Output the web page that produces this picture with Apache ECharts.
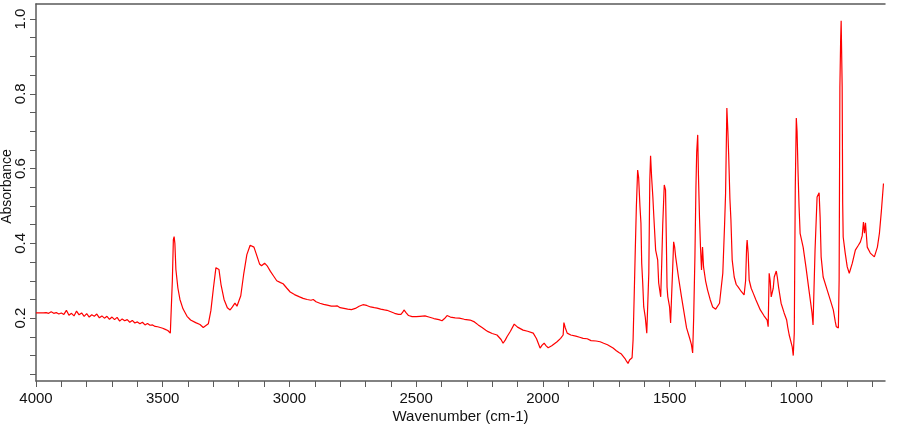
<!DOCTYPE html>
<html>
<head>
<meta charset="utf-8">
<title>IR spectrum</title>
<script src="https://cdn.jsdelivr.net/npm/echarts@6/dist/echarts.min.js"></script>
<style>
  html, body { margin: 0; padding: 0; background: #fff; }
  #chart { width: 900px; height: 425px; }
</style>
</head>
<body>
<div id="chart"></div>
<script>
const wavenumbers = [
  4000, 3990, 3980, 3970, 3960, 3950, 3940, 3930, 3920, 3910,
  3900, 3890, 3880, 3870, 3860, 3850, 3840, 3830, 3820, 3810,
  3800, 3790, 3780, 3770, 3760, 3750, 3740, 3730, 3720, 3710,
  3700, 3690, 3680, 3670, 3660, 3650, 3640, 3630, 3620, 3610,
  3600, 3590, 3580, 3570, 3560, 3550, 3540, 3530, 3520, 3510,
  3500, 3490, 3480, 3470, 3466, 3462, 3458, 3455, 3452, 3448,
  3440, 3432, 3420, 3404, 3390, 3370, 3353, 3340, 3333, 3320,
  3310, 3300, 3290, 3285, 3278, 3270, 3258, 3245, 3234, 3225,
  3215, 3207, 3200, 3192, 3180, 3168, 3155, 3148, 3140, 3130,
  3118, 3110, 3098, 3088, 3075, 3062, 3050, 3035, 3025, 3010,
  2997, 2980, 2960, 2946, 2930, 2915, 2906, 2895, 2880, 2865,
  2851, 2835, 2820, 2812, 2800, 2785, 2770, 2755, 2740, 2725,
  2710, 2695, 2680, 2665, 2654, 2640, 2625, 2615, 2600, 2585,
  2570, 2560, 2553, 2548, 2540, 2530, 2516, 2500, 2485, 2465,
  2450, 2430, 2410, 2398, 2388, 2378, 2365, 2346, 2330, 2310,
  2287, 2270, 2255, 2240, 2225, 2216, 2200, 2181, 2165, 2157,
  2148, 2141, 2128, 2113, 2100, 2078, 2060, 2038, 2025, 2011,
  2003, 1995, 1987, 1979, 1965, 1944, 1930, 1920, 1917, 1912,
  1904, 1890, 1870, 1855, 1841, 1825, 1810, 1790, 1774, 1760,
  1745, 1735, 1723, 1710, 1700, 1690, 1683, 1676, 1670, 1664,
  1658, 1652, 1648, 1644, 1640, 1636, 1631, 1626, 1622, 1617,
  1613, 1610, 1606, 1602, 1596, 1590, 1586, 1582, 1578, 1575,
  1571, 1566, 1562, 1555, 1547, 1543, 1535, 1531, 1527, 1521,
  1516, 1513, 1510, 1507, 1500, 1496, 1492, 1488, 1484, 1480,
  1476, 1465, 1453, 1440, 1433, 1421, 1414, 1409, 1405, 1400,
  1396, 1393, 1389, 1386, 1382, 1378, 1374, 1370, 1366, 1358,
  1350, 1340, 1330, 1318, 1311, 1303, 1290, 1283, 1279, 1274,
  1270, 1267, 1262, 1258, 1253, 1245, 1237, 1229, 1218, 1206,
  1200, 1196, 1194, 1190, 1186, 1178, 1170, 1160, 1142, 1128,
  1115, 1111, 1107, 1103, 1099, 1091, 1087, 1079, 1075, 1070,
  1060, 1048, 1038, 1034, 1028, 1016, 1012, 1008, 1004, 1000,
  997, 993, 989, 985, 981, 973, 962, 950, 938, 934,
  926, 918, 910, 906, 902, 894, 878, 866, 854, 846,
  842, 834, 831, 828, 825, 823, 819, 817, 815, 807,
  799, 791, 779, 767, 755, 747, 740, 735, 731, 727,
  724, 720, 708, 692, 680, 672, 664, 656
];

const absorbance = [
  0.214, 0.214, 0.214, 0.214, 0.215, 0.213, 0.217, 0.213, 0.215, 0.211,
  0.214, 0.210, 0.221, 0.208, 0.213, 0.206, 0.219, 0.209, 0.214, 0.205,
  0.212, 0.203, 0.209, 0.205, 0.211, 0.201, 0.206, 0.200, 0.205, 0.197,
  0.203, 0.196, 0.202, 0.192, 0.198, 0.193, 0.196, 0.189, 0.194, 0.187,
  0.190, 0.185, 0.189, 0.182, 0.186, 0.181, 0.182, 0.178, 0.177, 0.175,
  0.173, 0.170, 0.167, 0.160, 0.165, 0.300, 0.410, 0.418, 0.400, 0.330,
  0.280, 0.250, 0.225, 0.205, 0.195, 0.188, 0.183, 0.175, 0.174, 0.185,
  0.220, 0.280, 0.335, 0.340, 0.330, 0.290, 0.250, 0.228, 0.222, 0.230,
  0.240, 0.232, 0.232, 0.260, 0.320, 0.370, 0.395, 0.398, 0.390, 0.370,
  0.345, 0.340, 0.347, 0.340, 0.325, 0.312, 0.300, 0.295, 0.292, 0.280,
  0.270, 0.263, 0.257, 0.253, 0.250, 0.248, 0.250, 0.244, 0.240, 0.237,
  0.235, 0.232, 0.232, 0.233, 0.228, 0.226, 0.224, 0.223, 0.226, 0.232,
  0.236, 0.234, 0.230, 0.228, 0.227, 0.224, 0.222, 0.221, 0.217, 0.213,
  0.210, 0.210, 0.216, 0.222, 0.215, 0.207, 0.204, 0.204, 0.205, 0.206,
  0.203, 0.199, 0.196, 0.193, 0.199, 0.207, 0.203, 0.201, 0.200, 0.197,
  0.195, 0.190, 0.182, 0.175, 0.168, 0.164, 0.159, 0.155, 0.143, 0.133,
  0.142, 0.151, 0.165, 0.184, 0.176, 0.168, 0.165, 0.160, 0.145, 0.120,
  0.128, 0.133, 0.126, 0.121, 0.126, 0.137, 0.146, 0.155, 0.188, 0.175,
  0.160, 0.155, 0.152, 0.149, 0.146, 0.145, 0.140, 0.139, 0.137, 0.133,
  0.129, 0.125, 0.120, 0.113, 0.108, 0.104, 0.100, 0.092, 0.085, 0.079,
  0.088, 0.092, 0.094, 0.142, 0.250, 0.364, 0.500, 0.596, 0.575, 0.500,
  0.454, 0.347, 0.294, 0.230, 0.203, 0.160, 0.240, 0.320, 0.570, 0.634,
  0.578, 0.524, 0.470, 0.382, 0.356, 0.294, 0.257, 0.347, 0.450, 0.556,
  0.543, 0.418, 0.283, 0.257, 0.230, 0.187, 0.260, 0.329, 0.404, 0.390,
  0.364, 0.310, 0.257, 0.203, 0.174, 0.147, 0.130, 0.107, 0.200, 0.364,
  0.550, 0.644, 0.690, 0.580, 0.470, 0.390, 0.329, 0.390, 0.337, 0.300,
  0.275, 0.250, 0.230, 0.224, 0.222, 0.240, 0.320, 0.450, 0.534, 0.762,
  0.700, 0.640, 0.520, 0.463, 0.356, 0.310, 0.290, 0.283, 0.272, 0.262,
  0.300, 0.390, 0.409, 0.374, 0.302, 0.280, 0.267, 0.250, 0.222, 0.207,
  0.195, 0.177, 0.320, 0.300, 0.257, 0.280, 0.310, 0.326, 0.310, 0.283,
  0.240, 0.214, 0.195, 0.177, 0.155, 0.123, 0.100, 0.160, 0.551, 0.735,
  0.700, 0.588, 0.497, 0.427, 0.427, 0.390, 0.337, 0.275, 0.214, 0.182,
  0.382, 0.524, 0.535, 0.470, 0.364, 0.310, 0.275, 0.249, 0.222, 0.190,
  0.177, 0.174, 0.302, 0.818, 0.944, 0.995, 0.818, 0.508, 0.417, 0.374,
  0.337, 0.320, 0.347, 0.382, 0.395, 0.404, 0.420, 0.457, 0.427, 0.455,
  0.452, 0.390, 0.374, 0.364, 0.390, 0.427, 0.489, 0.560
];

// ticks and labels
const xTicks = [];
for (let w = 700; w <= 4000; w += 100) xTicks.push(w);
const xLabels = [1000, 1500, 2000, 2500, 3000, 3500, 4000];
const yTicks = [0.05, 0.1, 0.15, 0.2, 0.25, 0.3, 0.35, 0.4, 0.45, 0.5,
  0.55, 0.6, 0.65, 0.7, 0.75, 0.8, 0.85, 0.9, 0.95, 1.0];
const yLabels = [0.2, 0.4, 0.6, 0.8, 1.0];

const X_MIN = 650;
const X_MAX = 4000;
const Y_MIN = 0.032;
const Y_MAX = 1.04;

const AXIS_COLOR = "#5a5a5a";
const FONT = "Liberation Sans, Arial, sans-serif";

const chart = echarts.init(document.getElementById("chart"));

const points = wavenumbers.map((w, i) => [w, absorbance[i]]);

chart.setOption({
  animation: false,
  backgroundColor: "#fff",
  grid: {
    left: 36,
    right: 15,
    top: 4,
    bottom: 44,
    containLabel: false,
    outerBoundsMode: "none"
  },
  xAxis: [
    {
      type: "value",
      inverse: true,
      min: X_MIN,
      max: X_MAX,
      name: "Wavenumber (cm-1)",
      nameLocation: "middle",
      nameGap: 28,
      nameMoveOverlap: false,
      nameTextStyle: { color: "#111", fontFamily: FONT, fontSize: 15 },
      axisLine: { show: true, lineStyle: { color: AXIS_COLOR, width: 1.5 } },
      axisTick: {
        show: true,
        length: 6,
        customValues: xTicks,
        lineStyle: { color: AXIS_COLOR }
      },
      axisLabel: {
        customValues: xLabels,
        margin: 10,
        color: "#111",
        fontFamily: FONT,
        fontSize: 15,
        formatter: (v) => String(v)
      },
      splitLine: { show: false }
    },
    {
      type: "value",
      position: "top",
      inverse: true,
      min: X_MIN,
      max: X_MAX,
      axisLine: { show: true, lineStyle: { color: AXIS_COLOR, width: 1.5 } },
      axisTick: { show: false },
      axisLabel: { show: false },
      splitLine: { show: false }
    }
  ],
  yAxis: {
    type: "value",
    min: Y_MIN,
    max: Y_MAX,
    name: "Absorbance",
    nameLocation: "middle",
    nameGap: 22,
    nameMoveOverlap: false,
    nameTextStyle: {
      color: "#111",
      fontFamily: FONT,
      fontSize: 14,
      padding: [0, 0, 0, 12]
    },
    axisLine: { show: true, lineStyle: { color: AXIS_COLOR, width: 1.5 } },
    axisTick: {
      show: true,
      length: 6,
      customValues: yTicks,
      lineStyle: { color: AXIS_COLOR }
    },
    axisLabel: {
      customValues: yLabels,
      rotate: 90,
      margin: 8,
      color: "#111",
      fontFamily: FONT,
      fontSize: 15,
      formatter: (v) => v.toFixed(1)
    },
    splitLine: { show: false }
  },
  series: [
    {
      type: "line",
      data: points,
      showSymbol: false,
      smooth: false,
      lineStyle: { color: "#ff0000", width: 1.2 },
      itemStyle: { color: "#ff0000" }
    }
  ]
});

window.addEventListener("resize", () => chart.resize());
</script>
</body>
</html>
